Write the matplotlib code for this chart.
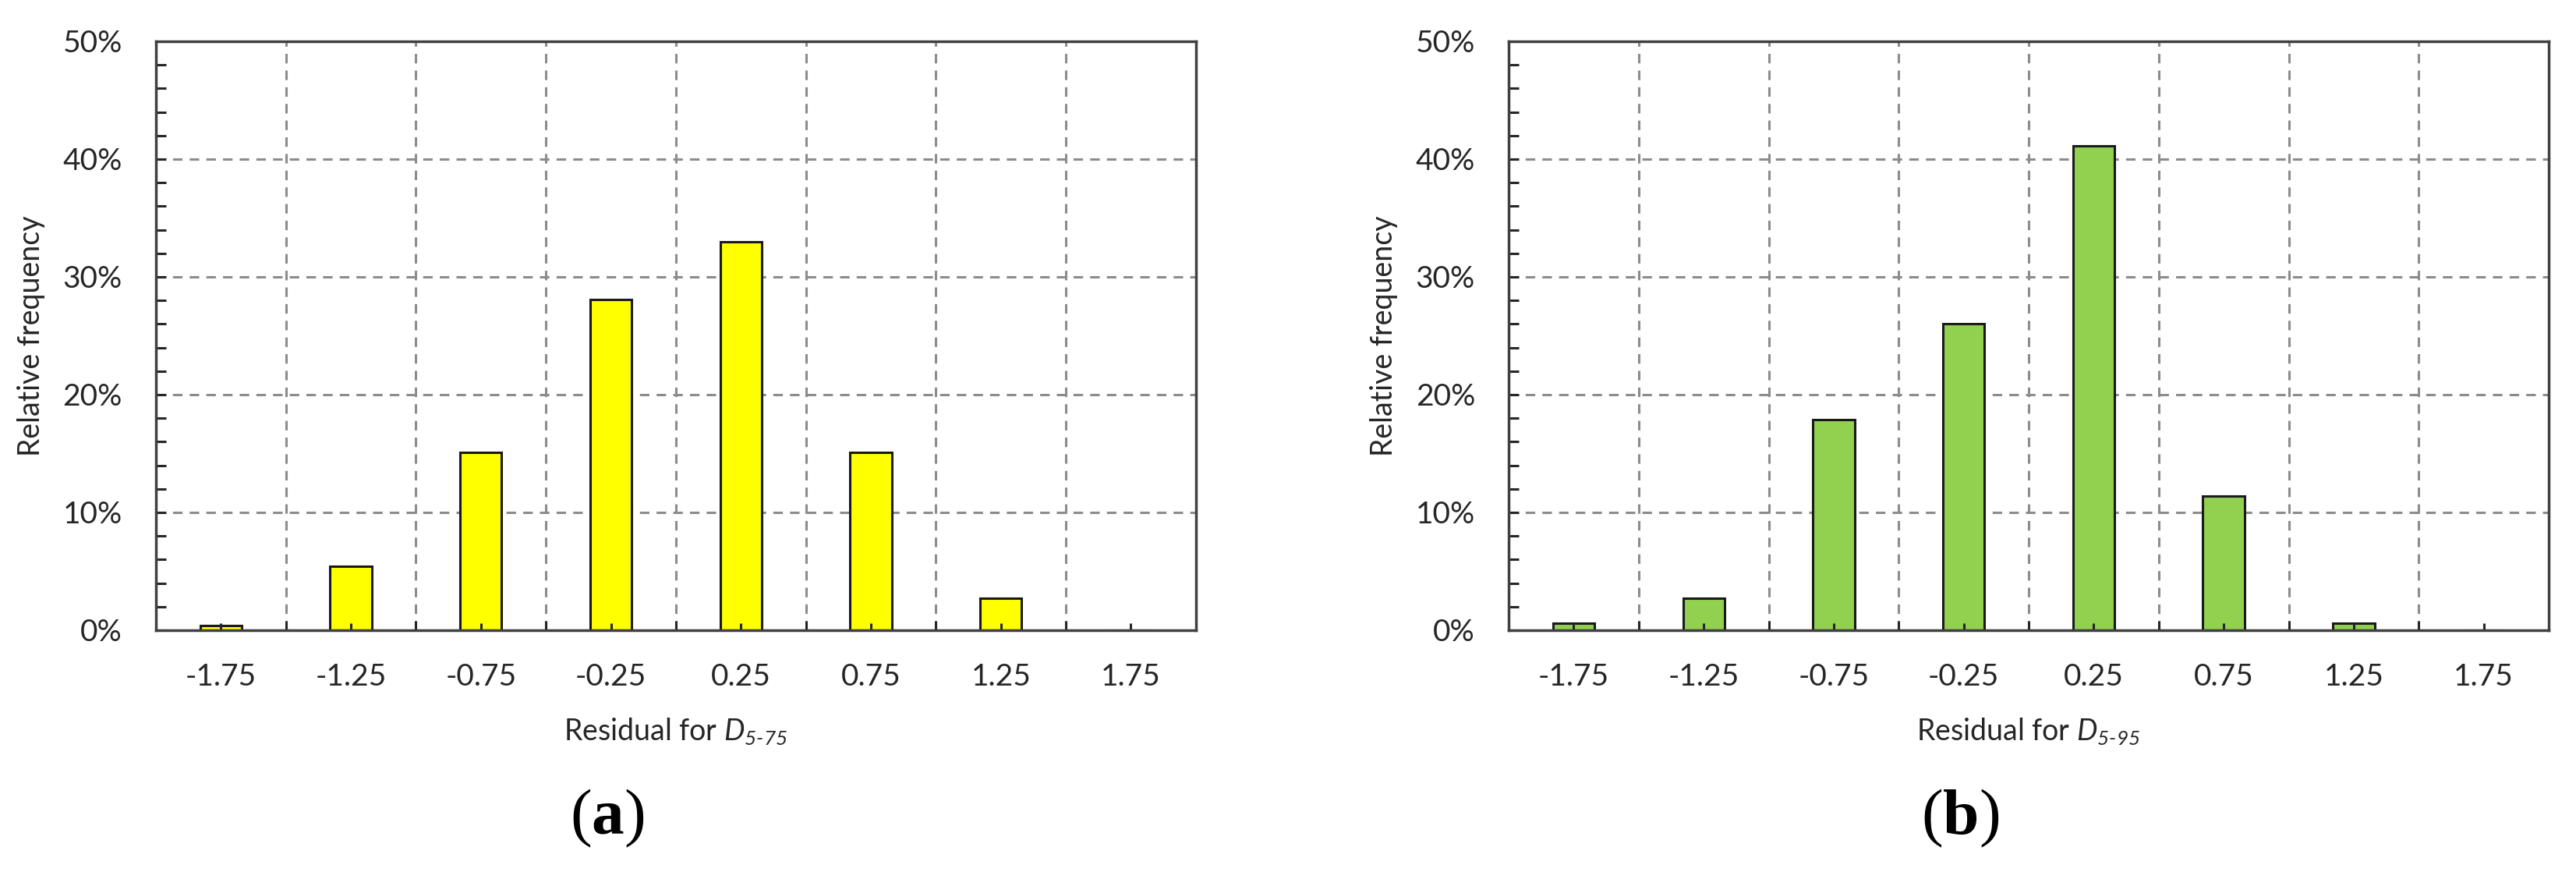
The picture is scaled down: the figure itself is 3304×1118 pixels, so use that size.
import matplotlib
matplotlib.use('Agg')
import matplotlib.pyplot as plt
from matplotlib.ticker import FixedLocator, FuncFormatter

plt.rcParams['font.family'] = ['Lato', 'DejaVu Sans']
plt.rcParams['mathtext.fontset'] = 'custom'
plt.rcParams['mathtext.rm'] = 'Lato:italic'
plt.rcParams['mathtext.it'] = 'Lato:italic'
plt.rcParams['mathtext.bf'] = 'Liberation Serif:bold'

# bin centres and bin edges of the residual histograms
bin_centres = [-1.75, -1.25, -0.75, -0.25, 0.25, 0.75, 1.25, 1.75]
bin_labels = ['-1.75', '-1.25', '-0.75', '-0.25', '0.25', '0.75', '1.25', '1.75']
bin_edges = [-1.5, -1.0, -0.5, 0.0, 0.5, 1.0, 1.5]

# relative frequency (%) for each bin
freq_d575 = [0.4, 5.4, 15.1, 28.1, 33.0, 15.1, 2.7, 0.0]
freq_d595 = [0.6, 2.7, 17.9, 26.0, 41.1, 11.4, 0.6, 0.0]

y_major = [0, 10, 20, 30, 40, 50]
y_minor = [2, 4, 6, 8, 12, 14, 16, 18, 22, 24, 26, 28, 32, 34, 36, 38, 42, 44, 46, 48]

panels = [
    (freq_d575, '#FFFF00', r'Residual for $D_{5\text{-}75}$', 'a', 0.0605, 0.2357),
    (freq_d595, '#92D050', r'Residual for $D_{5\text{-}95}$', 'b', 0.5855, 0.7607),
]

text_col = '#262626'
fig = plt.figure(figsize=(33.05, 11.18), dpi=100)

for vals, colour, xlab, tag, x0, tag_x in panels:
    ax = fig.add_axes([x0, 0.2773, 0.4036, 0.6753])

    # dashed grid behind the bars
    for y in y_major[1:-1]:
        ax.axhline(y, color='#8c8c8c', lw=2.2, ls=(0, (4, 3)), zorder=0.5)
    for x in bin_edges:
        ax.axvline(x, color='#8c8c8c', lw=2.2, ls=(0, (4, 3)), zorder=0.5)

    ax.bar(bin_centres, vals, width=0.16, color=colour,
           edgecolor='#1a1a1a', linewidth=2.2, zorder=1)

    ax.set_xlim(-2, 2)
    ax.set_ylim(0, 50)

    ax.xaxis.set_major_locator(FixedLocator(bin_centres))
    ax.xaxis.set_minor_locator(FixedLocator(bin_edges))
    ax.set_xticklabels(bin_labels)
    ax.yaxis.set_major_locator(FixedLocator(y_major))
    ax.yaxis.set_minor_locator(FixedLocator(y_minor))
    ax.yaxis.set_major_formatter(FuncFormatter(lambda v, p: '%d%%' % v))

    ax.tick_params(axis='both', which='both', direction='in', width=2.2,
                   color=text_col, labelcolor=text_col, labelsize=28)
    ax.tick_params(axis='x', which='major', length=6.5, pad=30)
    ax.tick_params(axis='x', which='minor', length=8.6)
    ax.tick_params(axis='y', which='both', length=9.6, pad=31)

    for s in ax.spines.values():
        s.set_color('#404040')
        s.set_linewidth(2.5)

    ax.set_ylabel('Relative frequency', fontsize=27, color=text_col, va='center')
    ax.yaxis.set_label_coords(-0.12, 0.5)
    ax.set_xlabel(xlab, fontsize=27, color=text_col, va='center')
    ax.xaxis.set_label_coords(0.5, -0.171)

    fig.text(tag_x, 0.061, r'($\mathbf{%s}$)' % tag, fontsize=60,
             family='Liberation Serif', ha='center', va='center')

fig.savefig('out.png', dpi=100)
